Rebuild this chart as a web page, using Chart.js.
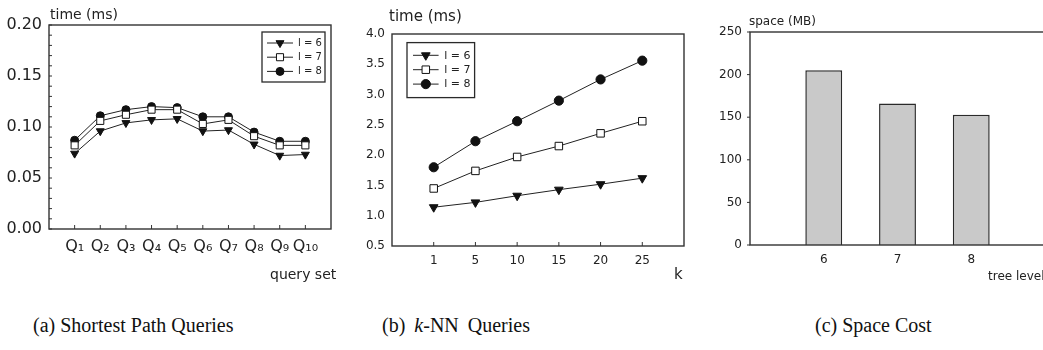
<!DOCTYPE html>
<html lang="en">
<head>
<meta charset="UTF-8">
<title>Query cost and space</title>
<script src="https://cdn.jsdelivr.net/npm/chart.js"></script>
<style>
  html, body { margin: 0; padding: 0; background: #fff; overflow: hidden; width: 1043px; height: 350px; }
  .painel { position: absolute; top: 0; }
  .rotulo { position: absolute; font-family: "DejaVu Sans", sans-serif; color: #222; white-space: nowrap; line-height: 1; }
  .legenda { position: absolute; top: 315px; font-family: "Liberation Serif", serif; font-size: 20px; line-height: 1; color: #111; white-space: nowrap; }
</style>
</head>
<body>
<canvas id="graficoA" class="painel" style="left:0px" width="345" height="290"></canvas>
<canvas id="graficoB" class="painel" style="left:345px" width="350" height="290"></canvas>
<canvas id="graficoC" class="painel" style="left:695px" width="360" height="290"></canvas>

<div class="rotulo" style="left:50px; top:7px; font-size:14px">time (ms)</div>
<div class="rotulo" style="left:270px; top:267px; font-size:14px">query set</div>
<div class="rotulo" style="left:389px; top:9px; font-size:15px">time (ms)</div>
<div class="rotulo" style="left:674px; top:267px; font-size:15px">k</div>
<div class="rotulo" style="left:749px; top:15px; font-size:12px">space (MB)</div>
<div class="rotulo" style="left:988px; top:270px; font-size:12px">tree level</div>

<div class="legenda" style="left:33px">(a) Shortest Path Queries</div>
<div class="legenda" style="left:382px; word-spacing:4px">(b) <i>k</i>-NN Queries</div>
<div class="legenda" style="left:815px">(c) Space Cost</div>

<script>
    // dados
    const consultas = ['Q₁', 'Q₂', 'Q₃', 'Q₄', 'Q₅', 'Q₆', 'Q₇', 'Q₈', 'Q₉', 'Q₁₀'];
    const spL6 = [0.074, 0.096, 0.104, 0.107, 0.108, 0.096, 0.097, 0.083, 0.072, 0.073];
    const spL7 = [0.082, 0.106, 0.112, 0.117, 0.117, 0.103, 0.107, 0.091, 0.082, 0.082];
    const spL8 = [0.087, 0.111, 0.117, 0.120, 0.119, 0.110, 0.110, 0.095, 0.086, 0.086];

    const valoresK = ['1', '5', '10', '15', '20', '25'];
    const knnL6 = [1.14, 1.22, 1.33, 1.43, 1.52, 1.62];
    const knnL7 = [1.45, 1.74, 1.97, 2.15, 2.36, 2.56];
    const knnL8 = [1.80, 2.23, 2.56, 2.90, 3.25, 3.56];

    const niveis = [6, 7, 8];
    const espaco = [205, 166, 153];

    const rotulosSerie = ['l = 6', 'l = 7', 'l = 8'];

    Chart.defaults.font.family = '"DejaVu Sans", sans-serif';
    Chart.defaults.color = '#222';

    // moldura do grafico + marcas dos eixos
    const moldura = {
        id: 'moldura',
        afterDraw(chart, args, o) {
            const { ctx, chartArea: a } = chart;
            ctx.save();
            ctx.strokeStyle = '#333';
            ctx.lineWidth = 1.4;
            ctx.strokeRect(a.left, a.top, a.right - a.left, a.bottom - a.top);
            ctx.lineWidth = 1;
            (o.marcas || []).forEach(m => {
                const escala = chart.scales[m.eixo];
                m.valores.forEach(v => {
                    const p = escala.getPixelForValue(v);
                    ctx.beginPath();
                    if (m.eixo === 'x') {
                        ctx.moveTo(p, a.bottom);
                        ctx.lineTo(p, a.bottom - m.comp);
                    } else {
                        ctx.moveTo(a.left, p);
                        ctx.lineTo(a.left + m.comp * m.sentido, p);
                    }
                    ctx.stroke();
                });
            });
            ctx.restore();
        }
    };

    // legenda dentro da area do grafico
    const legendaInterna = {
        id: 'legendaInterna',
        afterDraw(chart, args, o) {
            if (!o.mostrar) return;
            const { ctx, chartArea: a } = chart;
            const x0 = o.direita !== undefined ? a.right - o.direita - o.largura : a.left + o.esquerda;
            const y0 = a.top + o.topo;
            ctx.save();
            ctx.fillStyle = '#fff';
            ctx.fillRect(x0, y0, o.largura, o.altura);
            ctx.strokeStyle = '#2a2a2a';
            ctx.lineWidth = 1.3;
            ctx.strokeRect(x0, y0, o.largura, o.altura);
            chart.data.datasets.forEach((ds, i) => {
                const y = y0 + o.primeira + i * o.passo;
                ctx.strokeStyle = ds.borderColor;
                ctx.lineWidth = 1;
                ctx.beginPath();
                ctx.moveTo(x0 + o.linhaIni, y);
                ctx.lineTo(x0 + o.linhaFim, y);
                ctx.stroke();
                ctx.fillStyle = ds.pointBackgroundColor;
                ctx.strokeStyle = ds.pointBorderColor;
                Chart.helpers.drawPoint(ctx, {
                    pointStyle: ds.pointStyle,
                    rotation: ds.pointRotation || 0,
                    radius: ds.pointRadius,
                    borderWidth: 1
                }, x0 + (o.linhaIni + o.linhaFim) / 2, y);
                ctx.fillStyle = '#222';
                ctx.font = o.fonte + 'px "DejaVu Sans", sans-serif';
                ctx.textBaseline = 'middle';
                ctx.textAlign = 'left';
                ctx.fillText(ds.label, x0 + o.texto, y + 0.5);
            });
            ctx.restore();
        }
    };

    function serie(rotulo, valores, estilo, fundo, rotacao, raio) {
        return {
            label: rotulo,
            data: valores.map((v, i) => ({ x: i + 1, y: v })),
            borderColor: '#222',
            borderWidth: 1,
            pointStyle: estilo,
            pointRotation: rotacao,
            pointRadius: raio,
            pointBackgroundColor: fundo,
            pointBorderColor: '#111',
            pointBorderWidth: 1,
            tension: 0
        };
    }

    function semGrade() {
        return { display: false, drawTicks: false };
    }

    // (a) consultas de caminho minimo
    new Chart(document.getElementById('graficoA'), {
        type: 'line',
        data: {
            datasets: [
                serie(rotulosSerie[0], spL6, 'triangle', '#111', 180, 4.6),
                serie(rotulosSerie[1], spL7, 'rect', '#fff', 0, 5),
                serie(rotulosSerie[2], spL8, 'circle', '#111', 0, 4)
            ]
        },
        options: {
            responsive: false,
            animation: false,
            layout: { padding: { top: 25, right: 14, left: 0, bottom: 0 } },
            scales: {
                x: {
                    type: 'linear', min: 0, max: 11,
                    afterFit(s) { s.height = 61; },
                    grid: semGrade(), border: { display: false },
                    ticks: {
                        stepSize: 1, autoSkip: false, maxRotation: 0, padding: 8,
                        font: { size: 16 },
                        callback: v => consultas[v - 1] ?? null
                    }
                },
                y: {
                    min: 0, max: 0.2,
                    afterFit(s) { s.width = 49; },
                    grid: semGrade(), border: { display: false },
                    ticks: { stepSize: 0.05, padding: 7, font: { size: 16 }, callback: v => v.toFixed(2) }
                }
            },
            plugins: {
                legend: { display: false },
                tooltip: { enabled: false },
                moldura: {
                    marcas: [
                        { eixo: 'x', valores: [1, 2, 3, 4, 5, 6, 7, 8, 9, 10], comp: 4 },
                        { eixo: 'y', valores: Array.from({ length: 21 }, (_, i) => i / 100), comp: 3, sentido: 1 }
                    ]
                },
                legendaInterna: {
                    mostrar: true, direita: 6, topo: 7, largura: 63, altura: 50,
                    primeira: 11, passo: 14.2, linhaIni: 5, linhaFim: 31, texto: 36, fonte: 10
                }
            }
        },
        plugins: [moldura, legendaInterna]
    });

    // (b) consultas k-NN
    new Chart(document.getElementById('graficoB'), {
        type: 'line',
        data: {
            datasets: [
                serie(rotulosSerie[0], knnL6, 'triangle', '#111', 180, 5),
                serie(rotulosSerie[1], knnL7, 'rect', '#fff', 0, 5.3),
                serie(rotulosSerie[2], knnL8, 'circle', '#111', 0, 4.6)
            ]
        },
        options: {
            responsive: false,
            animation: false,
            layout: { padding: { top: 34, right: 11, left: 0, bottom: 0 } },
            scales: {
                x: {
                    type: 'linear', min: 0, max: 7,
                    afterFit(s) { s.height = 44; },
                    grid: semGrade(), border: { display: false },
                    ticks: {
                        stepSize: 1, autoSkip: false, maxRotation: 0, padding: 8,
                        font: { size: 12 },
                        callback: v => valoresK[v - 1] ?? null
                    }
                },
                y: {
                    min: 0.5, max: 4.0,
                    afterFit(s) { s.width = 47; },
                    grid: semGrade(), border: { display: false },
                    ticks: { stepSize: 0.5, padding: 7, font: { size: 12 }, callback: v => v.toFixed(1) }
                }
            },
            plugins: {
                legend: { display: false },
                tooltip: { enabled: false },
                moldura: {
                    marcas: [{ eixo: 'x', valores: [1, 2, 3, 4, 5, 6], comp: 4 }]
                },
                legendaInterna: {
                    mostrar: true, esquerda: 15, topo: 8.6, largura: 67.6, altura: 55,
                    primeira: 12.7, passo: 14.4, linhaIni: 6, linhaFim: 31.6, texto: 37.3, fonte: 11
                }
            }
        },
        plugins: [moldura, legendaInterna]
    });

    // (c) custo de espaco
    new Chart(document.getElementById('graficoC'), {
        type: 'bar',
        data: {
            datasets: [{
                label: 'space',
                data: niveis.map((n, i) => ({ x: n, y: espaco[i] })),
                backgroundColor: '#c9c9c9',
                borderColor: '#2a2a2a',
                borderWidth: 1.5,
                barPercentage: 0.5,
                categoryPercentage: 1
            }]
        },
        options: {
            responsive: false,
            animation: false,
            layout: { padding: { top: 32, right: 10, left: 0, bottom: 0 } },
            scales: {
                x: {
                    type: 'linear', min: 5, max: 9, offset: false,
                    afterFit(s) { s.height = 45; },
                    grid: { display: false, drawTicks: false, offset: false },
                    border: { display: false },
                    ticks: {
                        stepSize: 1, autoSkip: false, maxRotation: 0, padding: 8,
                        font: { size: 12 },
                        callback: v => niveis.includes(v) ? String(v) : null
                    }
                },
                y: {
                    min: 0, max: 250,
                    afterFit(s) { s.width = 55; },
                    grid: semGrade(),
                    border: { display: false },
                    ticks: { stepSize: 50, padding: 8, font: { size: 12 } }
                }
            },
            plugins: {
                legend: { display: false },
                tooltip: { enabled: false },
                moldura: {
                    marcas: [{ eixo: 'y', valores: [0, 50, 100, 150, 200, 250], comp: 3, sentido: -1 }]
                },
                legendaInterna: { mostrar: false }
            }
        },
        plugins: [moldura, legendaInterna]
    });
</script>
</body>
</html>
